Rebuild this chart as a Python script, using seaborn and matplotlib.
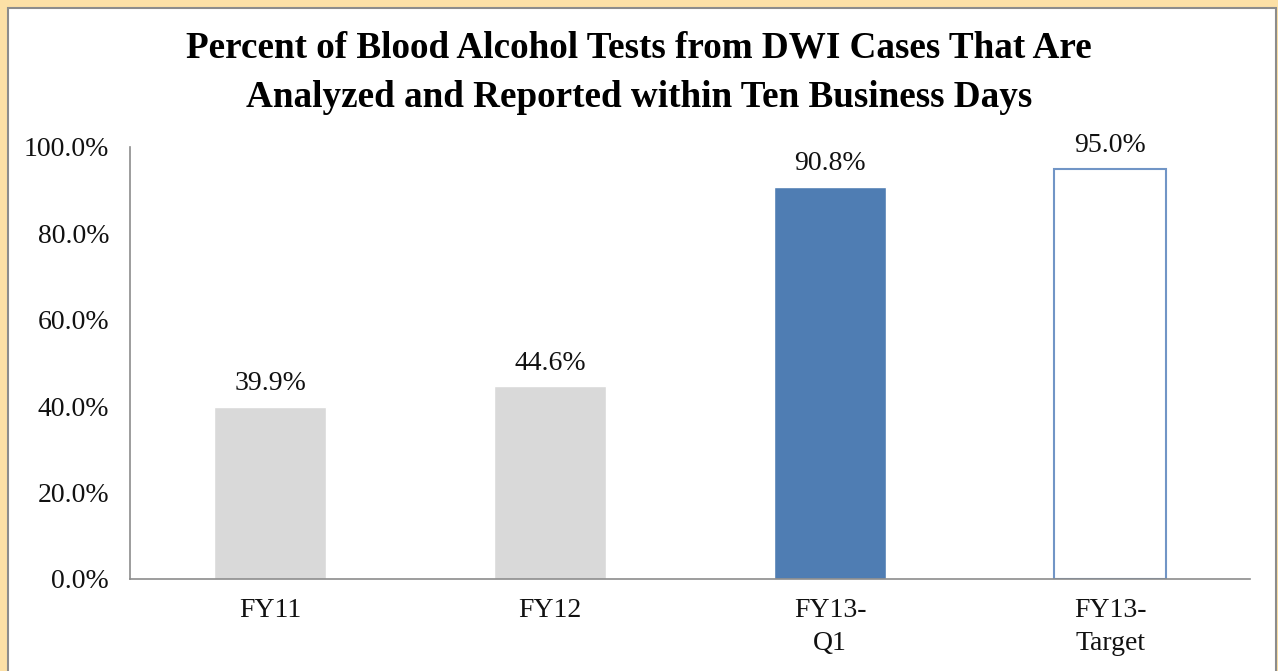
import matplotlib
matplotlib.use("Agg")
import matplotlib.pyplot as plt
from matplotlib.patches import Rectangle
import pandas as pd
import seaborn as sns

# data
periods = ["FY11", "FY12", "FY13-\nQ1", "FY13-\nTarget"]
percents = [39.9, 44.6, 90.8, 95.0]
bar_colors = ["#D9D9D9", "#D9D9D9", "#4F7DB3", "#FFFFFF"]

df = pd.DataFrame({"period": periods, "pct": percents})

sns.set_style("white")
plt.rcParams["font.family"] = ["Liberation Serif", "DejaVu Serif"]

fig = plt.figure(figsize=(12.78, 6.71), dpi=100)
fig.patch.set_facecolor("#FCE0A6")
# white panel with grey frame
fig.patches.append(Rectangle((8 / 1278, -0.05), 1268 / 1278, 1.05 - 8 / 671,
                             transform=fig.transFigure, facecolor="white",
                             edgecolor="#8C8C8C", linewidth=1.5, zorder=-5))

ax = fig.add_axes([130 / 1278, (671 - 579) / 671, 1120 / 1278, (579 - 147) / 671])
ax.set_facecolor("none")
sns.barplot(data=df, x="period", y="pct", hue="period", palette=bar_colors,
            width=0.40, legend=False, ax=ax, saturation=1)

# the target bar is only an outline
tgt = ax.patches[3]
tgt.set_edgecolor("#7195C6")
tgt.set_linewidth(1.5)

for p, v in zip(ax.patches, percents):
    ax.text(p.get_x() + p.get_width() / 2, v + 2.4, f"{v:.1f}%",
            ha="center", va="bottom", fontsize=20, color="#111111")

ax.set_ylim(0, 100)
ax.set_yticks([0, 20, 40, 60, 80, 100])
ax.set_yticklabels([f"{t:.1f}%" for t in [0, 20, 40, 60, 80, 100]])
ax.set_xlim(-0.5, 3.5)
ax.tick_params(axis="both", length=0, labelsize=20, colors="#111111")
ax.tick_params(axis="y", pad=15)
ax.tick_params(axis="x", pad=14)
for lbl in ax.get_xticklabels():
    lbl.set_linespacing(1.4)
ax.set_xlabel("")
ax.set_ylabel("")
for s in ["top", "right"]:
    ax.spines[s].set_visible(False)
for s in ["left", "bottom"]:
    ax.spines[s].set_color("#8C8C8C")
    ax.spines[s].set_linewidth(1.2)

fig.text(0.5, 0.892, "Percent of Blood Alcohol Tests from DWI Cases That Are\n"
         "Analyzed and Reported within Ten Business Days",
         ha="center", va="center", fontsize=26.7, fontweight="bold",
         linespacing=1.55, color="black")

fig.savefig("out.png", dpi=100, facecolor=fig.get_facecolor())
